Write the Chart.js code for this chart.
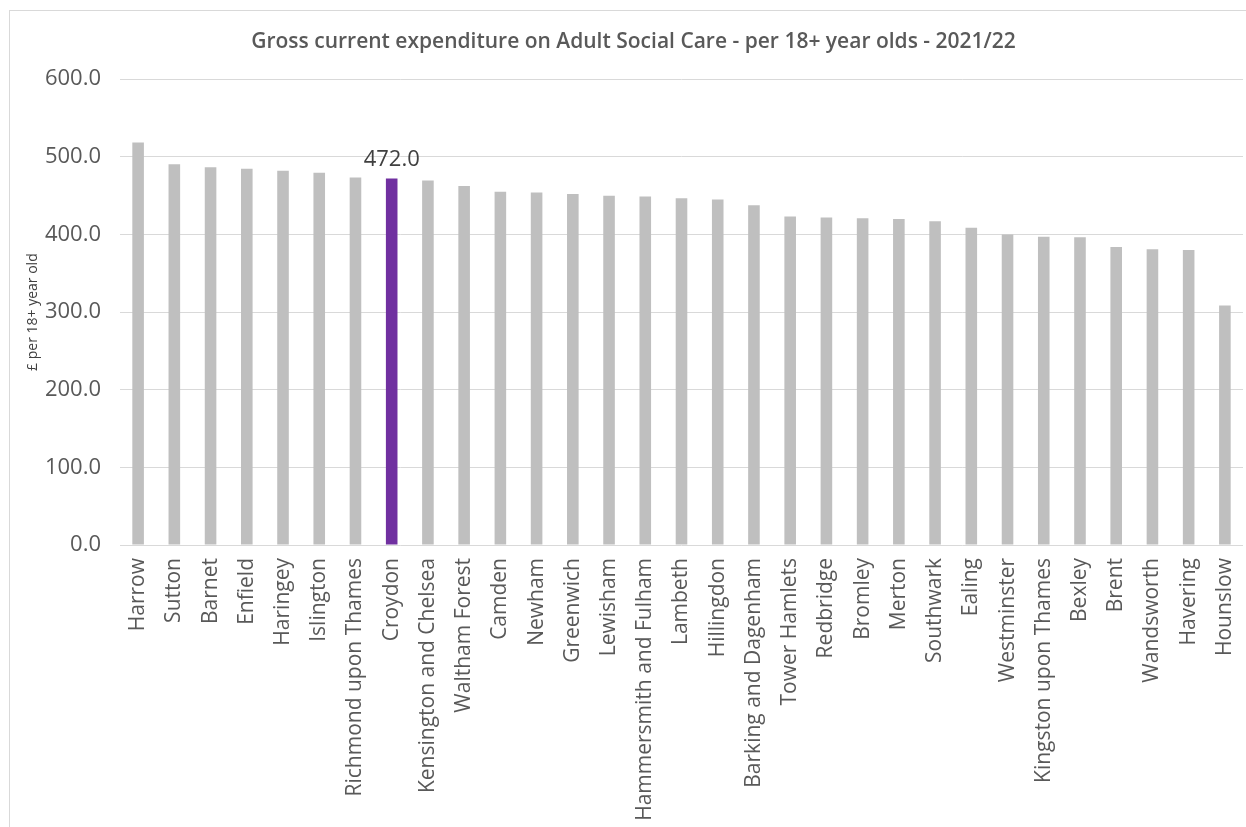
<!DOCTYPE html>
<html>
<head>
<meta charset="utf-8">
<script src="https://cdn.jsdelivr.net/npm/chart.js@4"></script>
<style>
    body { margin: 0; background: #ffffff; }
    #moldura {
        position: absolute;
        left: 9px;
        top: 10px;
        width: 1250px;
        height: 830px;
        border: 1px solid #d9d9d9;
    }
    #wrap { position: absolute; left: 0; top: 0; width: 1246px; height: 827px; }
</style>
</head>
<body>
<div id="moldura"></div>
<div id="wrap"><canvas id="graficoGasto"></canvas></div>
<script>
const boroughs = ['Harrow', 'Sutton', 'Barnet', 'Enfield', 'Haringey', 'Islington', 'Richmond upon Thames', 'Croydon',
    'Kensington and Chelsea', 'Waltham Forest', 'Camden', 'Newham', 'Greenwich', 'Lewisham', 'Hammersmith and Fulham',
    'Lambeth', 'Hillingdon', 'Barking and Dagenham', 'Tower Hamlets', 'Redbridge', 'Bromley', 'Merton', 'Southwark',
    'Ealing', 'Westminster', 'Kingston upon Thames', 'Bexley', 'Brent', 'Wandsworth', 'Havering', 'Hounslow'];
const gastoPorAdulto = [518.5, 490.5, 486.5, 484.5, 482.0, 479.5, 473.5, 472.0,
    469.5, 462.5, 455.0, 454.0, 452.0, 450.0, 449.0,
    446.5, 445.0, 437.5, 423.0, 422.0, 421.0, 420.0, 417.0,
    408.5, 400.0, 397.0, 396.5, 384.0, 381.0, 380.0, 308.5];
const destaque = 'Croydon';
const yTicks = [0, 100, 200, 300, 400, 500, 600];

const corCinza = '#bfbfbf';
const corRoxo = '#7030a0';
const corTexto = '#595959';

const cores = boroughs.map(b => b === destaque ? corRoxo : corCinza);

// rotulo so na barra em destaque
const rotuloDestaque = {
    id: 'rotuloDestaque',
    afterDatasetsDraw(chart) {
        const idx = boroughs.indexOf(destaque);
        const barra = chart.getDatasetMeta(0).data[idx];
        const ctx = chart.ctx;
        ctx.save();
        ctx.font = '22px "Open Sans"';
        ctx.fillStyle = '#404040';
        ctx.textAlign = 'center';
        ctx.textBaseline = 'alphabetic';
        ctx.fillText(gastoPorAdulto[idx].toFixed(1), barra.x, barra.y - 13);
        ctx.restore();
    }
};

const ctx = document.getElementById('graficoGasto').getContext('2d');
new Chart(ctx, {
    type: 'bar',
    data: {
        labels: boroughs,
        datasets: [{
            data: gastoPorAdulto,
            backgroundColor: cores,
            barPercentage: 0.32,
            categoryPercentage: 1
        }]
    },
    options: {
        responsive: true,
        maintainAspectRatio: false,
        animation: false,
        layout: { padding: { left: 24, right: 3, top: 0, bottom: 0 } },
        plugins: {
            legend: { display: false },
            tooltip: { enabled: false },
            title: {
                display: true,
                text: 'Gross current expenditure on Adult Social Care - per 18+ year olds - 2021/22',
                color: corTexto,
                font: { family: 'Open Sans', size: 21, weight: '600' },
                padding: { top: 29, bottom: 25 }
            }
        },
        scales: {
            x: {
                grid: { display: false, drawTicks: false },
                border: { display: false },
                ticks: {
                    autoSkip: false,
                    minRotation: 90,
                    maxRotation: 90,
                    padding: 13,
                    color: corTexto,
                    font: { family: 'Open Sans', size: 21 }
                },
                afterFit(scale) {
                    scale.height = 282;
                    scale.paddingLeft = 0;
                    scale.paddingRight = 0;
                }
            },
            y: {
                min: 0,
                max: 600,
                afterBuildTicks(scale) { scale.ticks = yTicks.map(v => ({ value: v })); },
                grid: { color: '#d9d9d9', lineWidth: 1, drawTicks: false },
                border: { display: false },
                ticks: {
                    padding: 19,
                    color: corTexto,
                    font: { family: 'Open Sans', size: 22 },
                    callback: function (value) { return value.toFixed(1); }
                },
                title: {
                    display: true,
                    text: '£ per 18+ year old',
                    color: '#404040',
                    font: { family: 'Open Sans', size: 14 },
                    padding: { top: 1, bottom: 0 }
                },
                afterFit(scale) { scale.width = 96; }
            }
        }
    },
    plugins: [rotuloDestaque]
});
</script>
</body>
</html>
